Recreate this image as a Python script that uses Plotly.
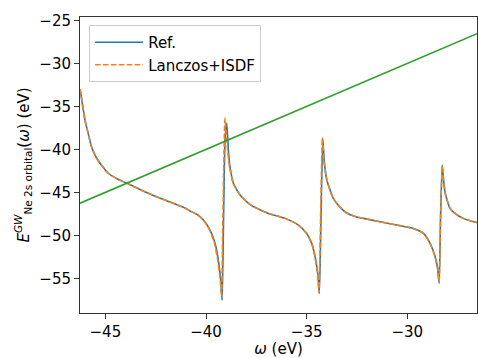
import plotly.graph_objects as go

# Reference curve
ref_omega = [-46.26, -46.22, -46.15, -46.02, -45.90, -45.70, -45.55, -45.36, -45.10, -44.87,
             -44.40, -43.92, -43.04, -42.05, -41.06, -40.79, -40.43, -40.13, -39.80, -39.55,
             -39.39, -39.27, -39.20, -39.14, -39.05, -38.97, -38.89, -38.81, -38.64, -38.50,
             -38.31, -38.05, -37.73, -37.30, -36.90, -36.07, -35.41, -35.00, -34.75, -34.58,
             -34.45, -34.37, -34.29, -34.20, -34.12, -34.00, -33.84, -33.70, -33.51, -33.25,
             -33.01, -32.60, -32.18, -31.35, -30.52, -29.70, -29.20, -28.87, -28.62, -28.50,
             -28.42, -28.35, -28.27, -28.20, -28.12, -27.88, -27.55, -27.22, -26.85, -26.48]
ref_E = [-33.0, -33.5, -34.6, -36.5, -37.7, -39.6, -40.5, -41.3, -42.1, -42.75,
         -43.45, -43.95, -44.93, -45.90, -46.80, -47.17, -47.60, -48.23, -49.39, -50.94,
         -52.89, -55.22, -57.55, -49.8, -38.5, -36.96, -40.07, -42.0, -43.95, -44.6,
         -45.3, -45.95, -46.55, -47.05, -47.45, -48.03, -48.81, -49.78, -50.94, -52.5,
         -54.44, -56.77, -48.2, -38.82, -41.6, -43.57, -44.73, -45.6, -46.28, -46.95,
         -47.40, -47.80, -48.03, -48.43, -48.81, -49.2, -49.78, -50.94, -52.5, -53.8,
         -55.6, -48.0, -41.82, -43.6, -45.1, -46.87, -47.6, -48.03, -48.33, -48.54]

# Lanczos+ISDF curve
lz_omega = [-46.26, -46.22, -46.15, -46.02, -45.90, -45.70, -45.55, -45.36, -45.10, -44.87,
            -44.40, -43.92, -43.04, -42.05, -41.06, -40.79, -40.43, -40.13, -39.82, -39.58,
            -39.42, -39.30, -39.23, -39.17, -39.06, -39.00, -38.92, -38.83, -38.65, -38.50,
            -38.31, -38.05, -37.73, -37.30, -36.90, -36.07, -35.41, -35.00, -34.75, -34.59,
            -34.46, -34.39, -34.31, -34.22, -34.13, -34.00, -33.84, -33.70, -33.51, -33.25,
            -33.01, -32.60, -32.18, -31.35, -30.52, -29.70, -29.20, -28.87, -28.62, -28.50,
            -28.42, -28.35, -28.26, -28.20, -28.12, -27.88, -27.55, -27.22, -26.85, -26.48]
lz_E = [-33.0, -33.5, -34.6, -36.5, -37.7, -39.6, -40.5, -41.3, -42.1, -42.75,
        -43.45, -43.95, -44.93, -45.90, -46.80, -47.17, -47.60, -48.23, -49.39, -50.94,
        -52.89, -55.0, -57.15, -49.0, -36.4, -38.0, -40.3, -42.1, -43.95, -44.6,
        -45.3, -45.95, -46.55, -47.05, -47.45, -48.03, -48.81, -49.78, -50.94, -52.5,
        -54.44, -56.7, -48.0, -38.6, -41.5, -43.57, -44.73, -45.6, -46.28, -46.95,
        -47.40, -47.80, -48.03, -48.43, -48.81, -49.2, -49.78, -50.94, -52.5, -53.8,
        -55.4, -47.8, -41.9, -43.6, -45.1, -46.87, -47.6, -48.03, -48.33, -48.54]

# Diagonal line E = omega
diag_omega = [-46.26, -26.54]
diag_E = [-46.26, -26.54]

x_ticks = [-45, -40, -35, -30]
y_ticks = [-55, -50, -45, -40, -35, -30, -25]

FONT = "DejaVu Sans"

fig = go.Figure()
fig.add_trace(go.Scatter(x=ref_omega, y=ref_E, mode="lines", name="Ref.",
                         line=dict(color="#1f77b4", width=1.6, shape="spline", smoothing=0.5)))
fig.add_trace(go.Scatter(x=lz_omega, y=lz_E, mode="lines", name="Lanczos+ISDF",
                         line=dict(color="#ff7f0e", width=1.6, dash="5.5px,2.4px",
                                   shape="spline", smoothing=0.5)))
fig.add_trace(go.Scatter(x=diag_omega, y=diag_E, mode="lines", showlegend=False,
                         line=dict(color="#2ca02c", width=1.6)))

fig.update_layout(
    width=478, height=358,
    margin=dict(l=80, r=1, t=17, b=45),
    plot_bgcolor="white", paper_bgcolor="white",
    font=dict(family=FONT, size=15, color="black"),
    legend=dict(x=0.023, y=0.973, xanchor="left", yanchor="top",
                bgcolor="rgba(255,255,255,0.8)", bordercolor="#cccccc", borderwidth=1,
                font=dict(family=FONT, size=15), tracegroupgap=0, itemwidth=48),
    xaxis=dict(range=[-46.26, -26.54], tickvals=x_ticks, showgrid=False, zeroline=False,
               showline=True, linecolor="#333333", linewidth=1, mirror=True,
               ticks="outside", ticklen=5, tickcolor="#333333",
               tickfont=dict(family=FONT, size=15),
               title=dict(text="<i>ω</i> (eV)", font=dict(family=FONT, size=15), standoff=6)),
    yaxis=dict(range=[-59.04, -24.6], tickvals=y_ticks, showgrid=False, zeroline=False,
               showline=True, linecolor="#333333", linewidth=1, mirror=True,
               ticks="outside", ticklen=5, tickcolor="#333333",
               tickfont=dict(family=FONT, size=15),
               title=dict(text="<i>E</i><sup><i>GW</i></sup><sub>Ne 2s orbital</sub>(<i>ω</i>) (eV)",
                          font=dict(family=FONT, size=15), standoff=6)),
)

fig.write_html("out.html")
